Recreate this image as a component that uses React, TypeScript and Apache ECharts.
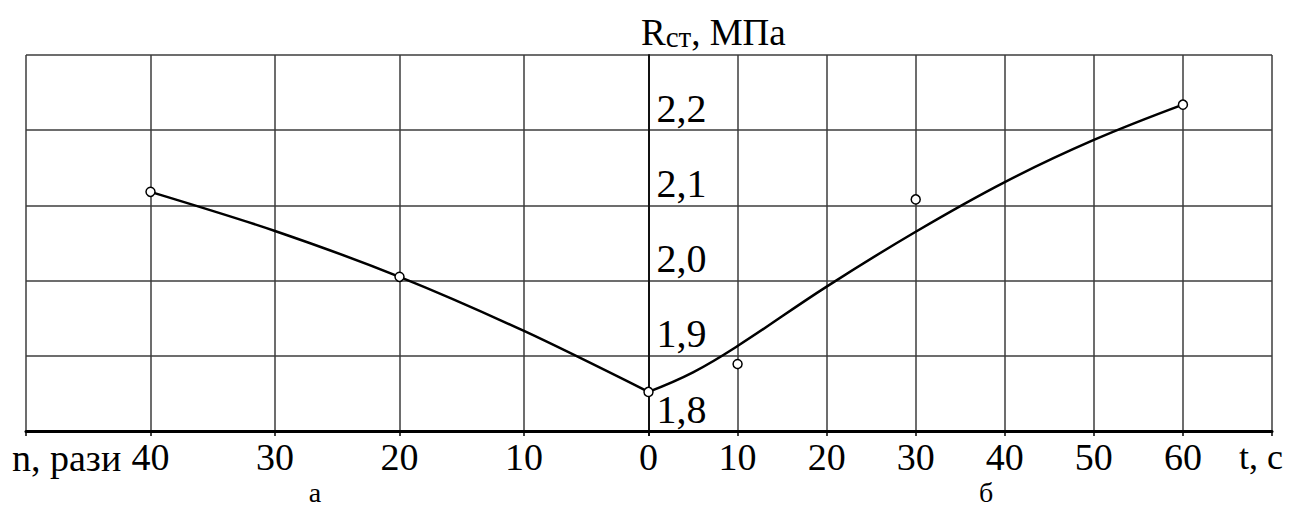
import React, { useEffect, useRef } from "react";
import * as echarts from "echarts";

// Left half: n, рази (reversed axis)
const leftTicks = [0, 10, 20, 30, 40, 50];
const leftCurve = [
  [0, 1.852],
  [10, 1.933],
  [20, 2.005],
  [30, 2.066],
  [40, 2.118],
];
const leftPoints = [
  [40, 2.118],
  [20, 2.005],
  [0, 1.852],
];

// Right half: t, c
const rightTicks = [0, 10, 20, 30, 40, 50, 60, 70];
const rightCurve = [
  [0, 1.852],
  [5, 1.878],
  [10, 1.913],
  [20, 1.992],
  [30, 2.065],
  [40, 2.131],
  [50, 2.187],
  [60, 2.234],
];
const rightPoints = [
  [10, 1.889],
  [30, 2.108],
  [60, 2.234],
];

const yTickLabels = ["1,8", "1,9", "2,0", "2,1", "2,2"];

const FONT = "Liberation Serif";
const GRID_COLOR = "#3c3c3c";

export default function App() {
  const ref = useRef<HTMLDivElement>(null);

  useEffect(() => {
    if (!ref.current) return;
    const chart = echarts.init(ref.current, undefined, { renderer: "svg" });

    const xAxisCommon = {
      type: "value" as const,
      position: "bottom" as const,
      interval: 10,
      axisLine: { show: true, lineStyle: { color: "#000", width: 3 } },
      axisTick: { show: true, length: 5, lineStyle: { color: "#000", width: 1.5 } },
      splitLine: { show: true, lineStyle: { color: GRID_COLOR, width: 1.5 } },
      axisLabel: {
        fontFamily: FONT,
        fontSize: 38,
        color: "#000",
        margin: 7,
      },
    };

    const yAxisCommon = {
      type: "value" as const,
      min: 1.8,
      max: 2.3,
      interval: 0.1,
      splitLine: { show: true, lineStyle: { color: GRID_COLOR, width: 1.5 } },
      axisTick: { show: false },
    };

    const txt = (text: string, x: number, y: number, size: number, align = "left") => ({
      type: "text",
      x,
      y,
      style: {
        text,
        fill: "#000",
        fontFamily: FONT,
        fontSize: size,
        align,
        textAlign: align,
        verticalAlign: "top",
        textVerticalAlign: "top",
      },
    });

    const option = {
      animation: false,
      backgroundColor: "#fff",
      grid: [
        { left: 26, top: 55, width: 622.5, height: 376, containLabel: false },
        { left: 648.5, top: 55, width: 623.5, height: 376, containLabel: false },
      ],
      xAxis: [
        {
          ...xAxisCommon,
          gridIndex: 0,
          min: leftTicks[0],
          max: leftTicks[leftTicks.length - 1],
          inverse: true,
          axisLabel: {
            ...xAxisCommon.axisLabel,
            formatter: (v: number) => (v === 50 ? "" : String(v)),
          },
        },
        {
          ...xAxisCommon,
          gridIndex: 1,
          min: rightTicks[0],
          max: rightTicks[rightTicks.length - 1],
          axisLabel: {
            ...xAxisCommon.axisLabel,
            formatter: (v: number) => (v === 0 || v === 70 ? "" : String(v)),
          },
        },
      ],
      yAxis: [
        {
          ...yAxisCommon,
          gridIndex: 0,
          axisLine: { show: false },
          axisLabel: { show: false },
        },
        {
          ...yAxisCommon,
          gridIndex: 1,
          position: "left",
          axisLine: { show: true, lineStyle: { color: "#111", width: 2 } },
          axisLabel: {
            show: true,
            inside: true,
            margin: 8,
            fontFamily: FONT,
            fontSize: 40,
            color: "#000",
            verticalAlign: "bottom",
            padding: [0, 0, 2, 0],
            formatter: (v: number) => {
              const i = Math.round((v - 1.8) * 10);
              return i >= 0 && i < yTickLabels.length ? yTickLabels[i] : "";
            },
          },
        },
      ],
      series: [
        {
          type: "line",
          xAxisIndex: 0,
          yAxisIndex: 0,
          data: leftCurve,
          smooth: 0.3,
          symbol: "none",
          lineStyle: { color: "#000", width: 2.5 },
          z: 3,
        },
        {
          type: "scatter",
          xAxisIndex: 0,
          yAxisIndex: 0,
          data: leftPoints,
          symbol: "circle",
          symbolSize: 9,
          itemStyle: { color: "#fff", borderColor: "#000", borderWidth: 1.5, opacity: 1 },
          z: 5,
        },
        {
          type: "line",
          xAxisIndex: 1,
          yAxisIndex: 1,
          data: rightCurve,
          smooth: 0.4,
          symbol: "none",
          lineStyle: { color: "#000", width: 2.5 },
          z: 3,
        },
        {
          type: "scatter",
          xAxisIndex: 1,
          yAxisIndex: 1,
          data: rightPoints,
          symbol: "circle",
          symbolSize: 9,
          itemStyle: { color: "#fff", borderColor: "#000", borderWidth: 1.5, opacity: 1 },
          z: 5,
        },
      ],
      graphic: [
        {
          type: "text",
          x: 641,
          y: 51,
          style: {
            text: "{a|R}{b|ст}{a|, МПа}",
            fill: "#000",
            verticalAlign: "bottom",
            textVerticalAlign: "bottom",
            rich: {
              a: { fontFamily: FONT, fontSize: 37, lineHeight: 37, verticalAlign: "bottom", fill: "#000" },
              b: { fontFamily: FONT, fontSize: 29, lineHeight: 37, verticalAlign: "bottom", fill: "#000" },
            },
          },
        },
        txt("n, рази", 12, 439, 38),
        txt("t, c", 1239, 439, 36),
        txt("а", 315, 478, 28, "center"),
        txt("б", 986, 478, 28, "center"),
      ],
    };

    chart.setOption(option as any);
    return () => chart.dispose();
  }, []);

  return (
    <div
      ref={ref}
      style={{ position: "fixed", left: 0, top: 0, width: 1290, height: 507, background: "#fff" }}
    />
  );
}
